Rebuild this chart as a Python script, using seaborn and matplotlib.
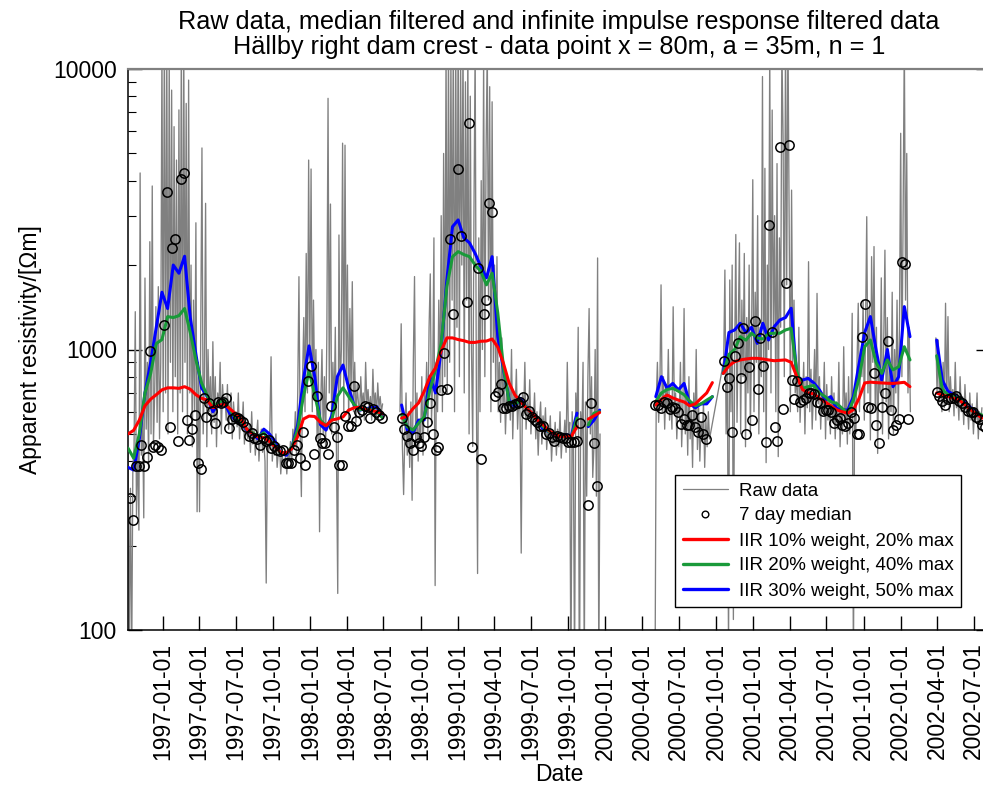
import numpy as np
import pandas as pd
import matplotlib
matplotlib.use("Agg")
import matplotlib.pyplot as plt
from matplotlib.lines import Line2D
from matplotlib.ticker import LogLocator, NullFormatter, FixedLocator, FixedFormatter
import seaborn as sns

# ---------------- data ----------------
RAW_STEP = 3      # days between raw samples
MED_STEP = 7      # 7 day median
IIR_STEP = 14     # IIR curves read every two weeks

raw_starts = ["1996-10-07", "1998-08-11", "2000-05-03", "2000-10-20", "2002-03-29"]
raw_units = [0, 1, 2, 2, 3]   # segments 3 and 4 are joined by a straight line

raw_1 = [430, 85, 320, 70, 380, 450, 1364, 255, 480, 227,
         4260, 420, 600, 251, 1798, 520, 900, 380, 2423, 500,
         3828, 460, 700, 1422, 550, 1675, 480, 900, 12000, 600,
         15000, 700, 12000, 500, 11000, 900, 8410, 600, 6230, 800,
         4735, 500, 7150, 700, 13000, 600, 12000, 900, 7540, 500,
         9130, 700, 2000, 450, 1500, 600, 2830, 264, 900, 264,
         1200, 5230, 500, 800, 3320, 450, 1000, 600, 800, 500,
         1066, 550, 800, 450, 700, 620, 900, 500, 750, 620,
         680, 560, 750, 520, 620, 700, 480, 650, 560, 600,
         530, 700, 480, 580, 520, 650, 460, 560, 500, 480,
         540, 430, 600, 460, 520, 420, 490, 560, 400, 480,
         520, 430, 470, 400, 147, 480, 430, 520, 942, 400,
         460, 420, 500, 380, 430, 460, 360, 420, 400, 380,
         420, 360, 440, 400, 470, 380, 520, 450, 600, 420,
         700, 1818, 500, 299, 800, 1300, 600, 2200, 700, 4735,
         900, 4400, 600, 1500, 700, 1000, 480, 900, 224, 650,
         1000, 500, 800, 450, 1111, 7860, 700, 3300, 500, 900,
         600, 1200, 400, 135, 2560, 700, 1000, 5440, 600, 5350,
         800, 2000, 550, 1400, 700, 1745, 600, 900, 550, 750,
         650, 580, 800, 620, 700, 560, 900, 640, 720, 600,
         680, 560, 850, 620, 700, 580, 760, 620, 680, 600, 640]

raw_2 = [600, 1235, 450, 304, 500, 700, 420, 600, 380, 650,
         290, 900, 1820, 450, 700, 400, 550, 480, 800, 420,
         700, 600, 900, 500, 1200, 1860, 550, 800, 2500, 144,
         900, 600, 1500, 700, 3000, 600, 5000, 800, 12000, 700,
         13000, 900, 11000, 1500, 14000, 600, 12000, 1200, 15000, 800,
         11000, 2000, 13000, 700, 9000, 1500, 12000, 500, 8000, 1000,
         451, 3000, 12000, 700, 159, 2500, 600, 4000, 1000, 11000,
         800, 5000, 12000, 1500, 8650, 600, 7640, 900, 2000, 700,
         2143, 600, 900, 550, 1100, 620, 800, 500, 700, 600,
         750, 560, 1000, 480, 700, 620, 850, 520, 680, 600,
         188, 700, 580, 900, 520, 650, 560, 780, 500, 620,
         540, 700, 480, 600, 420, 560, 650, 460, 580, 500,
         620, 440, 520, 480, 580, 400, 500, 460, 550, 420,
         520, 450, 600, 410, 500, 470, 560, 430, 900, 480,
         550, 60, 600, 450, 70, 700, 520, 1200, 50, 600,
         480, 900, 70, 650, 300, 800, 1400, 500, 800, 350,
         450, 1000, 300, 2120, 70, 500]

raw_3 = [60, 640, 900, 550, 700, 1700, 600, 800, 520, 750,
         600, 1000, 560, 680, 520, 1420, 600, 700, 480, 650,
         580, 900, 450, 620, 1400, 500, 700, 420, 800, 480,
         600, 380, 700, 520, 1000, 440, 620, 400, 550, 470,
         650, 380, 560, 450, 600, 480]

raw_4 = [910, 1920, 500, 1000, 80, 1770, 600, 2000, 109, 900,
         2570, 550, 1200, 2400, 500, 1500, 800, 2200, 450, 1300,
         700, 2000, 500, 1100, 4030, 600, 1600, 900, 3000, 500,
         1200, 800, 9400, 600, 4425, 395, 2000, 1000, 12000, 700,
         7140, 1100, 3000, 600, 4600, 415, 2500, 1200, 12000, 5740,
         800, 13000, 1700, 14000, 3000, 600, 3700, 900, 1500, 700,
         800, 600, 1200, 550, 750, 650, 900, 500, 800, 620,
         2056, 600, 850, 520, 700, 1000, 560, 1585, 640, 800,
         520, 700, 600, 900, 480, 750, 560, 680, 500, 800,
         550, 700, 480, 650, 520, 900, 450, 620, 500, 1023,
         550, 700, 460, 800, 500, 600, 1346, 70, 700, 500,
         900, 1462, 600, 1000, 800, 1500, 560, 1200, 2975, 700,
         1400, 476, 2143, 900, 2328, 600, 1200, 426, 900, 700,
         1800, 500, 1100, 2260, 650, 1300, 480, 900, 600, 1600,
         500, 1000, 700, 1500, 560, 1200, 5900, 800, 3000, 13000,
         1500, 5000, 700, 1200, 600]

raw_5 = [1100, 700, 1081, 650, 800, 600, 900, 620, 1462, 640,
         1310, 600, 800, 650, 720, 580, 900, 620, 700, 560,
         800, 600, 680, 540, 750, 600, 650, 520, 700, 560,
         640, 500, 620, 560, 700, 480, 600, 540, 620]

nan = np.nan
med_starts = ["1996-10-12", "1998-08-15", "2000-05-04", "2000-10-20", "2002-03-31"]
med_a = [295, 247, 385, 385, 457, 385, 413, 990, 450, 458,
         450, 440, 1222, 3633, 531, 2296, 2468, 472, 4045, 4260,
         561, 476, 519, 584, 395, 374, 670, 573, 646, 604,
         546, 652, 645, 652, 670, 526, 565, 573, 569, 560,
         550, 531, 490, 505, 483, 480, 455, 485, 470, 475,
         445, 452, 438, 434, 438, 395, 395, 395, 440, 455,
         410, 509, 388, 773, 873, 423, 683, 485, 463, 463,
         424, 629, 531, 486, 389, 389, 579, 535, 535, 741,
         557, 600, 610, 630, 625, 569, 614, 598, 585, 569]
med_b = [569, 519, 492, 466, 438, 486, 466, 454, 486, 552,
         646, 499, 438, 451, 718, 969, 725, 2477, 1339, nan,
         4400, 2545, nan, 1473, 6430, 451, nan, 1958, 406, 1339,
         1502, 3330, 3092, 683, 708, 752, 617, 620, 630, 630,
         640, 646, 652, 675, 587, 605, 573, 561, 553, 533,
         533, 500, 505, 487, 470, 493, 488, 482, 482, 468,
         468, 468, 472, 546, nan, nan, 279, 643, 463, 326]
med_c = [634, 634, 620, 650, 646, 612, 624, 617, 600, 543,
         563, 538, 538, 584, 531, 510, 573, 499, 480]
med_d = [910, 733, 789, 509, 948, 1052, 789, 1191, 500, 868,
         561, 1268, 722, 1096, 870, 469, 2780, 1157, 528, 472,
         5270, 612, 1722, 5375, 778, 667, 774, 652, 658, 670,
         702, 702, 694, 652, 646, 604, 610, 610, 600, 546,
         560, 568, 538, 533, 546, 600, 569, 498, 500, 1105,
         1452, 625, 617, 827, 538, 463, 624, 702, 1075, 610,
         516, 540, 563, 2056, 2017, 563]
med_e = [707, 683, 654, 634, 664, 670, 670, 683, 654, 646,
         624, 604, 600, 600, 573, 563, 538, 531]

iir_starts = ["1996-10-07", "1998-08-15", "2000-05-05", "2000-10-19", "2002-03-31"]
red_a = [500, 515, 560, 630, 665, 690, 718, 730, 730, 727,
         737, 722, 690, 670, 660, 620, 630, 640, 615, 590,
         565, 520, 500, 488, 485, 470, 450, 430, 428, 444,
         490, 565, 579, 577, 550, 535, 560, 566, 575, 608,
         620, 622, 610, 605, 600, 590]
red_b = [569, 579, 615, 645, 710, 800, 860, 990, 1100, 1100,
         1085, 1075, 1060, 1060, 1070, 1072, 1090, 1020, 893, 760,
         690, 652, 620, 595, 560, 540, 515, 500, 490, 490,
         490, 531, nan, 565, 580, 596]
red_c = [634, 665, 688, 672, 660, 650, 630, 640, 670, 700, 762]
red_d = [822, 875, 905, 918, 925, 930, 930, 925, 918, 912,
         915, 918, 900, 800, 720, 700, 695, 670, 650, 630,
         610, 600, 593, 610, 670, 760, 765, 762, 760, 758,
         757, 760, 764, 737]
red_e = [700, 688, 680, 670, 660, 635, 610, 590, 569]

green_a = [445, 410, 500, 700, 820, 1050, 1085, 1310, 1300, 1320,
           1400, 1150, 920, 760, 685, 625, 645, 660, 610, 570,
           550, 520, 505, 490, 505, 475, 455, 426, 426, 450,
           520, 680, 840, 690, 560, 535, 560, 680, 730, 680,
           635, 610, 615, 610, 600, 570]
green_b = [584, 531, 516, 546, 575, 718, 846, 1052, 1675, 2143,
           2233, 2180, 2143, 2000, 1900, 1700, 1870, 1350, 868, 650,
           640, 656, 625, 590, 560, 531, 510, 503, 495, 490,
           486, 569, nan, 538, 593, 600]
green_c = [652, 700, 720, 727, 710, 690, 655, 630, 640, 660, 679]
green_d = [822, 960, 1000, 1111, 1080, 1143, 1100, 1090, 1140, 1143,
           1143, 1174, 1190, 833, 727, 737, 745, 700, 679, 652,
           643, 617, 593, 661, 790, 1023, 1081, 900, 822, 918,
           846, 868, 1023, 918]
green_e = [950, 720, 690, 679, 670, 640, 608, 595, 584]

blue_a = [380, 372, 480, 700, 900, 1200, 1600, 1400, 2000, 1870,
          2150, 1300, 960, 730, 680, 600, 640, 650, 590, 560,
          545, 516, 500, 480, 520, 500, 470, 425, 420, 450,
          540, 780, 1030, 800, 540, 516, 580, 800, 880, 730,
          630, 608, 615, 620, 625, 573]
blue_b = [634, 516, 503, 560, 561, 800, 700, 1000, 1770, 2740,
          2897, 2500, 2400, 2200, 1973, 1800, 2143, 1111, 850, 661,
          625, 670, 625, 590, 561, 520, 510, 497, 497, 497,
          492, 593, nan, 531, 560, 608]
blue_c = [679, 800, 727, 757, 718, 757, 640, 620, 640, 640, 679]
blue_d = [822, 1150, 1174, 1240, 1150, 1200, 1052, 1240, 1081, 1206,
          1274, 1300, 1403, 800, 778, 789, 760, 718, 661, 679,
          617, 610, 608, 679, 889, 1150, 1310, 1000, 778, 1000,
          737, 800, 1422, 1111]
blue_e = [1080, 778, 710, 690, 670, 650, 620, 600, 575]

x_ticks = pd.date_range("1997-01-01", "2002-07-01", freq="QS")
x_range = ("1996-10-07", "2002-08-10")
labels = ["Raw data", "7 day median", "IIR 10% weight, 20% max",
          "IIR 20% weight, 40% max", "IIR 30% weight, 50% max"]


# ---------------- helpers ----------------
def build(starts, series, step, units=None):
    frames = []
    for k, (s, v) in enumerate(zip(starts, series)):
        u = k if units is None else units[k]
        d = pd.date_range(s, periods=len(v), freq=f"{step}D")
        vals = np.asarray(v, dtype=float)
        brk = np.cumsum(np.isnan(vals))
        frames.append(pd.DataFrame({"date": d, "value": vals,
                                    "unit": u * 1000 + brk}))
    df = pd.concat(frames, ignore_index=True)
    return df.dropna(subset=["value"])


raw_df = build(raw_starts, [raw_1, raw_2, raw_3, raw_4, raw_5], RAW_STEP, raw_units)
med_df = build(med_starts, [med_a, med_b, med_c, med_d, med_e], MED_STEP)
red_df = build(iir_starts, [red_a, red_b, red_c, red_d, red_e], IIR_STEP)
green_df = build(iir_starts, [green_a, green_b, green_c, green_d, green_e], IIR_STEP)
blue_df = build(iir_starts, [blue_a, blue_b, blue_c, blue_d, blue_e], IIR_STEP)

# ---------------- plot ----------------
sns.set_style("white")
plt.rcParams["font.family"] = ["Liberation Sans", "DejaVu Sans"]
plt.rcParams["text.color"] = "black"
plt.rcParams["axes.labelcolor"] = "black"
plt.rcParams["xtick.color"] = "black"
plt.rcParams["ytick.color"] = "black"

GRAY = "#808080"
RED = "#ff0000"
GREEN = "#1a9a3a"
BLUE = "#0000ff"

W, H = 983, 790
fig = plt.figure(figsize=(W / 100, H / 100), dpi=100)
ax = fig.add_axes([128 / W, 1 - 630 / H, 862 / W, 561 / H])
ax.set_yscale("log")

sns.lineplot(data=raw_df, x="date", y="value", units="unit", estimator=None,
             color=GRAY, lw=0.95, ax=ax, legend=False, zorder=1)
for df, col in [(blue_df, BLUE), (green_df, GREEN), (red_df, RED)]:
    sns.lineplot(data=df, x="date", y="value", units="unit", estimator=None,
                 color=col, lw=2.2, ax=ax, legend=False, zorder=3)
sns.lineplot(data=med_df, x="date", y="value", units="unit", estimator=None,
             ls="none", marker="o", ms=6.7, mfc="none", mec="black", mew=1.1,
             ax=ax, legend=False, zorder=4)

ax.set_xlim(pd.Timestamp(x_range[0]), pd.Timestamp(x_range[1]))
ax.set_ylim(100, 10000)

ax.yaxis.set_major_locator(FixedLocator([100, 1000, 10000]))
ax.yaxis.set_major_formatter(FixedFormatter(["100", "1000", "10000"]))
ax.yaxis.set_minor_locator(LogLocator(base=10, subs=range(2, 10)))
ax.yaxis.set_minor_formatter(NullFormatter())

ax.set_xticks(x_ticks)
ax.set_xticklabels([d.strftime("%Y-%m-%d") for d in x_ticks], rotation=90)
ax.xaxis.set_minor_locator(FixedLocator([]))

ax.tick_params(axis="both", which="both", direction="in", colors="black",
               labelsize=16.5, labelcolor="black")
ax.tick_params(axis="y", which="major", left=True, right=True, pad=8,
               length=10, width=1)
ax.tick_params(axis="y", which="minor", left=True, right=False,
               length=5.5, width=0.8)
ax.tick_params(axis="x", which="major", bottom=True, top=False, length=10,
               width=1, pad=9)

for side in ["left", "bottom", "right"]:
    ax.spines[side].set_color("black")
    ax.spines[side].set_linewidth(1.1)
ax.spines["top"].set_color(GRAY)
ax.spines["top"].set_linewidth(1.6)

ax.set_xlabel("Date", fontsize=16.5, labelpad=2, color="black")
ax.set_ylabel("Apparent resistivity/[\u03a9m]", fontsize=16.5, labelpad=8,
              color="black")
ax.set_title("Raw data, median filtered and infinite impulse response filtered data\n"
             "H\u00e4llby right dam crest - data point x = 80m, a = 35m, n = 1",
             fontsize=18.2, pad=11, linespacing=1.06, color="black")

handles = [Line2D([], [], color=GRAY, lw=0.9),
           Line2D([], [], ls="none", marker="o", ms=4.8, mfc="none",
                  mec="black", mew=1.0),
           Line2D([], [], color=RED, lw=2.4),
           Line2D([], [], color=GREEN, lw=2.4),
           Line2D([], [], color=BLUE, lw=2.4)]
leg = ax.legend(handles, labels, loc="lower right",
                bbox_to_anchor=((961 - 128) / 862, 23 / 561), borderaxespad=0,
                fontsize=13.5, handlelength=2.4, handletextpad=0.6,
                labelspacing=0.42, borderpad=0.4, fancybox=False,
                framealpha=1, edgecolor="black", numpoints=1)
leg.get_frame().set_linewidth(1.0)
for t in leg.get_texts():
    t.set_color("black")

fig.savefig("out.png", dpi=100)
